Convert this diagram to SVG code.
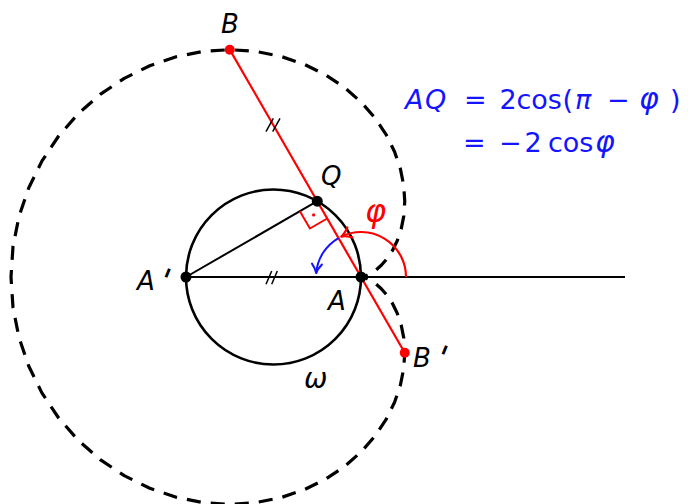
<svg xmlns="http://www.w3.org/2000/svg" width="688" height="504" viewBox="0 0 688 504">
<style>
.t{font-family:"DejaVu Sans",sans-serif;font-size:26px;fill:#000}
.f{font-size:27px}
.g{font-size:30px}
.p{font-size:34px}
.i{font-style:italic}
.blue{fill:#1414ff}
.red{fill:#ff0000}
.blk{stroke:#000;fill:none}
.rl{stroke:#ff0000;fill:none}
</style>
<defs>
<marker id="arR" markerUnits="userSpaceOnUse" markerWidth="16" markerHeight="16" refX="12" refY="8" orient="auto" overflow="visible">
<path d="M2.5,2.5 Q8,7 12,8 Q8,9 2.5,13.5" fill="none" stroke="#ff0000" stroke-width="2.2" stroke-linecap="round" stroke-linejoin="round"/>
</marker>
<marker id="arB" markerUnits="userSpaceOnUse" markerWidth="16" markerHeight="16" refX="12" refY="8" orient="auto" overflow="visible">
<path d="M3,3 Q8,7 12,8 Q8,9 3,13" fill="none" stroke="#1414ff" stroke-width="2" stroke-linecap="round" stroke-linejoin="round"/>
</marker>
</defs>
<rect width="688" height="504" fill="#fff"/>
<g id="cardioid">
<polyline pathLength="1392" fill="none" stroke="#000" stroke-width="3.2" stroke-dasharray="14 10" stroke-dashoffset="7" stroke-linejoin="round" points="361,277 361.66,276.94 363.62,276.54 366.76,275.46 370.92,273.39 375.86,270.07 381.30,265.28 386.92,258.85 392.36,250.68 397.24,240.76 401.18,229.11 403.80,215.87 404.75,201.22 403.70,185.42 400.38,168.80 394.57,151.71 386.11,134.58 374.92,117.86 361,102 344.42,87.47 325.33,74.73 303.98,64.21 280.68,56.31 255.79,51.37 229.75,49.67 203.05,51.43 176.21,56.77 149.76,65.76 124.25,78.34 100.22,94.40 78.20,113.72 58.65,136.01 42.02,160.90 28.69,187.96 18.94,216.68 12.99,246.55 11,277 12.99,307.45 18.94,337.32 28.69,366.04 42.02,393.10 58.65,417.99 78.20,440.28 100.22,459.60 124.25,475.66 149.76,488.24 176.21,497.23 203.05,502.57 229.75,504.33 255.79,502.63 280.68,497.69 303.98,489.79 325.33,479.27 344.42,466.53 361,452 374.92,436.14 386.11,419.42 394.57,402.29 400.38,385.20 403.70,368.58 404.75,352.78 403.80,338.13 401.18,324.89 397.24,313.24 392.36,303.32 386.92,295.15 381.30,288.72 375.86,283.93 370.92,280.61 366.76,278.54 363.62,277.46 361.66,277.06 361,277"/>
</g>
<g id="omega">
<circle cx="273.5" cy="277" r="87.5" class="blk" stroke-width="2.6"/>
<text class="t i" x="304" y="388" style="font-size:28px">ω</text>
</g>
<g id="connectors">
<line x1="186" y1="277" x2="625" y2="277" class="blk" stroke-width="2.2"/>
<line x1="186" y1="277" x2="317.25" y2="201.2" class="blk" stroke-width="2"/>
<line x1="229.75" y1="49.67" x2="404.75" y2="352.78" class="rl" stroke-width="2.2"/>
<polyline points="299.9,211.2 309.9,228.5 327.25,218.5" class="rl" stroke-width="2"/>
<circle cx="313.6" cy="214.9" r="1.6" fill="#ff0000"/>
<line x1="266" y1="131.7" x2="273.3" y2="118.3" class="blk" stroke-width="1.5"/>
<line x1="272.7" y1="131.7" x2="280" y2="118.3" class="blk" stroke-width="1.5"/>
<line x1="266" y1="284.3" x2="271.7" y2="271" class="blk" stroke-width="1.5"/>
<line x1="271.7" y1="284.3" x2="277.3" y2="271" class="blk" stroke-width="1.5"/>
<path d="M406,277 A45,45 0 0 0 341.27,236.55" class="rl" stroke-width="2.2" marker-end="url(#arR)"/>
<path d="M338.5,238.03 A45,45 0 0 0 316.17,273.08" fill="none" stroke="#1414ff" stroke-width="2" marker-end="url(#arB)"/>
</g>
<g id="angle-phi">
<text class="t i red" x="365" y="222" style="font-size:32px">φ</text>
</g>
<g id="node-B">
<circle cx="229.75" cy="49.67" r="5" fill="#ff0000"/>
<text class="t i" x="221" y="33">B</text>
</g>
<g id="node-Bp">
<circle cx="404.75" cy="352.78" r="5" fill="#ff0000"/>
<text class="t i" x="413" y="367">B<tspan class="p" dx="2" rotate="22">'</tspan></text>
</g>
<g id="node-Q">
<circle cx="317.25" cy="201.2" r="5.5" fill="#000"/>
<text class="t i" x="321" y="185">Q</text>
</g>
<g id="node-Ap">
<circle cx="186" cy="277" r="5.5" fill="#000"/>
<text class="t i" x="137" y="290">A<tspan class="p" dx="1" rotate="22">'</tspan></text>
</g>
<g id="node-A">
<circle cx="361" cy="277" r="5.5" fill="#000"/>
<text class="t i" x="328" y="310">A</text>
</g>
<g id="formula">
<text class="t f i blue" x="405" y="109">A</text>
<text class="t f i blue" x="425" y="109">Q</text>
<text class="t f blue" x="464" y="109">=</text>
<text class="t f blue" x="499.5" y="109">2</text>
<text class="t f blue" x="516.5" y="109">cos</text>
<text class="t f blue" x="562.5" y="109">(</text>
<text class="t f i blue" x="575" y="109">π</text>
<text class="t f blue" x="607" y="109">−</text>
<text class="t g i blue" x="639" y="109">φ</text>
<text class="t f blue" x="670" y="109">)</text>
<text class="t f blue" x="463" y="152">=</text>
<text class="t f blue" x="499" y="152">−</text>
<text class="t f blue" x="524.5" y="152">2</text>
<text class="t f blue" x="548" y="152">cos</text>
<text class="t g i blue" x="595" y="152">φ</text>
</g>
</svg>
